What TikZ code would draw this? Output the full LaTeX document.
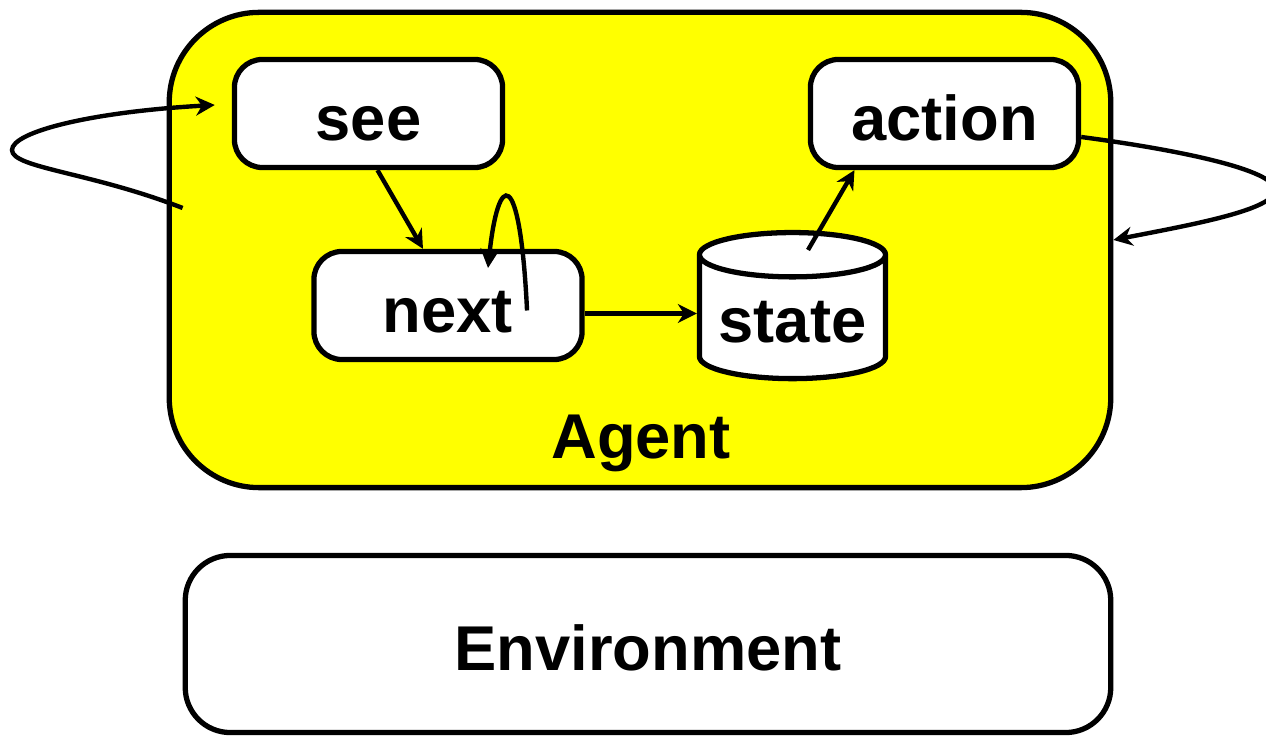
\documentclass[tikz,border=0pt]{standalone}
\usepackage{fontspec}
\setmainfont{Liberation Sans}
\usepackage{tikz}
\usetikzlibrary{positioning,arrows.meta,shapes.geometric}
\definecolor{agentfill}{HTML}{FFFF00}
\definecolor{ink}{HTML}{000000}
\tikzset{
  box/.style={rectangle, draw=ink, fill=white, line width=1.5pt, rounded corners=2.8mm,
              minimum width=2.68cm, minimum height=1.08cm, inner sep=0pt,
              text height=0.6cm, text depth=0.07cm,
              font=\bfseries\fontsize{18}{22}\selectfont},
  store/.style={cylinder, shape border rotate=90, aspect=0.3, draw=ink, fill=white,
                line width=1.5pt, minimum width=1.86cm, minimum height=1.46cm, inner sep=0pt,
                text height=0.56cm, text depth=0.07cm,
                font=\bfseries\fontsize{18}{22}\selectfont},
  big/.style={font=\bfseries\fontsize{18}{22}\selectfont},
  arr/.style={-{Stealth[length=1.9mm,width=1.9mm]}, line width=1.25pt, draw=ink},
}
\begin{document}
\begin{tikzpicture}[x=0.01cm, y=-0.01cm]
    \useasboundingbox (0,0) rectangle (1266,737);
    % agent and environment
    \node[box, fill=agentfill, rounded corners=9mm, minimum width=9.41cm, minimum height=4.75cm] (agent) at (640,250) {};
    \node[big] (agentlbl) at (641,443) {Agent};
    \node[box, rounded corners=4.5mm, minimum width=9.25cm, minimum height=1.77cm] (env) at (648,644) {Environment};
    % inner parts
    \node[box] (see) at (368.5,113.5) {see};
    \node[box] (action) at (944.5,113.5) {action};
    \node[box] (next) at (448,305.5) {next};
    \node[store] (state) at (792.5,318) {state};
    % connectors
    \draw[arr] ([xshift=0.09cm]see.south) -- ([xshift=-0.25cm]next.north);
    \draw[arr] ([xshift=0.79cm,yshift=-0.05cm]next.center)
        .. controls (520,165) and (498,170) .. ([xshift=0.4cm,yshift=0.375cm]next.center);
    \draw[arr] ([yshift=-0.08cm]next.east) -- ([yshift=-0.08cm]next.east -| state.west);
    \draw[arr] ([xshift=0.155cm,yshift=0.68cm]state.center) -- ([xshift=-0.9cm]action.south);
    \coordinate (perceive) at (12,150);
    \draw[arr] ([xshift=0.16cm,yshift=0.42cm]agent.west)
        .. controls (90,172) and (12,168) .. (perceive)
        .. controls (12,132) and (90,112) .. ([xshift=-0.17cm,yshift=0.085cm]see.west);
    \coordinate (act) at (1275,190);
    \draw[arr] ([yshift=-0.235cm]action.east)
        .. controls (1180,150) and (1275,170) .. (act)
        .. controls (1275,210) and (1190,225) .. ([yshift=0.1cm]agent.east);
  \end{tikzpicture}
\end{document}
